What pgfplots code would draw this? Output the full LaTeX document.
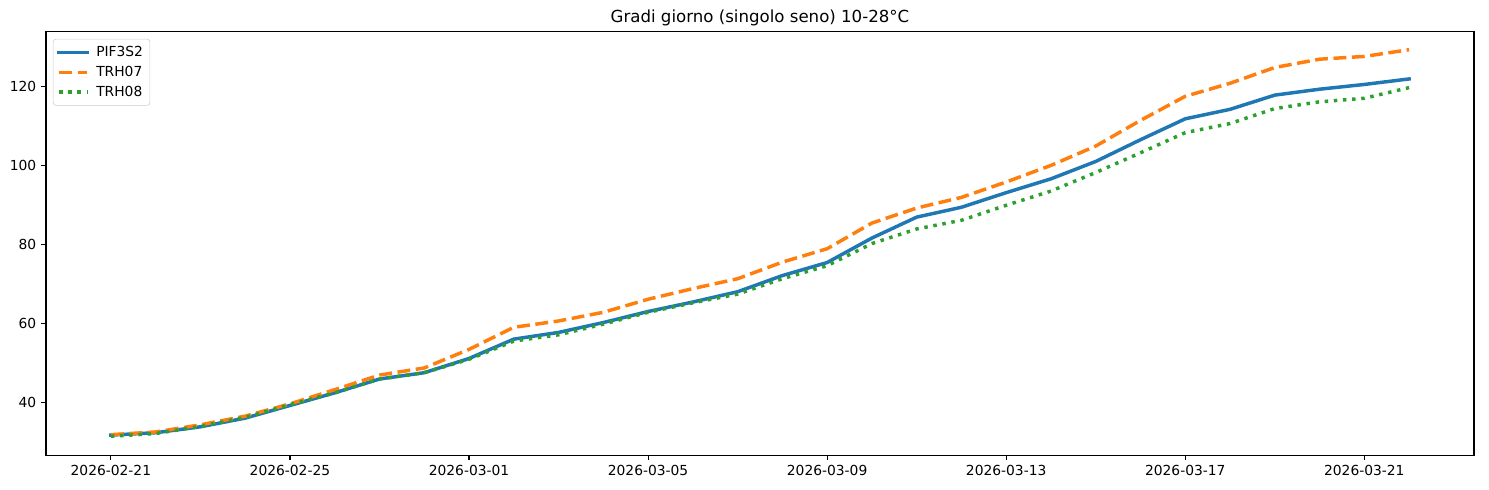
\documentclass[border=0pt]{standalone}
\usepackage{fontspec}
\setmainfont{DejaVu Sans}
\usepackage{pgfplots}
\pgfplotsset{compat=1.18}
\usepackage{pgfplotstable}
\definecolor{tabblue}{HTML}{1F77B4}
\definecolor{taborange}{HTML}{FF7F0E}
\definecolor{tabgreen}{HTML}{2CA02C}
\pgfplotstableread{
d PIF TRHa TRHb
0 31.8 31.9 31.5
1 32.4 32.6 32.2
2 33.9 34.4 34.0
3 36.1 36.6 36.3
4 39.3 39.7 39.5
5 42.5 43.3 42.5
6 46.0 47.0 46.0
7 47.6 48.8 47.6
8 51.2 53.5 51.0
9 56.1 59.1 55.6
10 57.8 60.7 57.2
11 60.3 62.9 59.9
12 63.1 66.2 62.9
13 65.5 68.9 65.3
14 68.1 71.4 67.5
15 72.2 75.6 71.4
16 75.5 79.0 74.7
17 81.7 85.5 80.3
18 87.0 89.3 84.0
19 89.5 92.0 86.2
20 93.2 95.9 90.0
21 96.7 100.1 93.6
22 101.1 105.0 98.3
23 106.6 111.5 103.3
24 111.9 117.6 108.4
25 114.3 120.9 110.7
26 117.9 124.9 114.5
27 119.4 127.0 116.2
28 120.6 127.7 117.1
29 122.0 129.4 119.8
}\datatable
\begin{document}
\begin{tikzpicture}
\begin{axis}[
  scale only axis,
  width=1028bp, height=305bp,
  xmin=-1.45, xmax=30.45,
  ymin=26.6, ymax=133.9,
  xtick={0,4,8,12,16,20,24,28},
  xticklabels={2026-02-21,2026-02-25,2026-03-01,2026-03-05,2026-03-09,2026-03-13,2026-03-17,2026-03-21},
  ytick={40,60,80,100,120},
  tick align=outside, tick pos=left,
  major tick length=3.5bp,
  every tick/.style={black, line width=0.8bp},
  axis line style={line width=0.8bp},
  /pgf/number format/assume math mode=true,
  ticklabel style={font=\fontsize{10}{12}\selectfont},
  title={Gradi giorno (singolo seno) 10-28°C},
  title style={font=\fontsize{12}{14}\selectfont, yshift=-5.5bp},
  legend style={at={(0,1)}, anchor=north west, xshift=5bp, yshift=-5bp,
    draw=black!20, rounded corners=2bp, font=\fontsize{10}{12}\selectfont,
    row sep=1.5bp, inner sep=3bp},
  legend cell align=left,
  legend image code/.code={\draw[#1] (0bp,0bp) -- (20bp,0bp); \path (23.5bp,0bp);},
]
\addplot[tabblue, line width=2.5bp, line cap=rect] table[x=d, y=PIF] {\datatable};
\addlegendentry{PIF3S2}
\addplot[taborange, line width=2.5bp, dash pattern=on 9.25bp off 4bp] table[x=d, y=TRHa] {\datatable};
\addlegendentry{TRH07}
\addplot[tabgreen, line width=2.5bp, dash pattern=on 2.5bp off 4.1bp] table[x=d, y=TRHb] {\datatable};
\addlegendentry{TRH08}
\end{axis}
\path ([xshift=-33.1bp,yshift=-24.5bp]current axis.south west) rectangle ([xshift=10.8bp,yshift=23bp]current axis.north east);
\end{tikzpicture}
\end{document}
